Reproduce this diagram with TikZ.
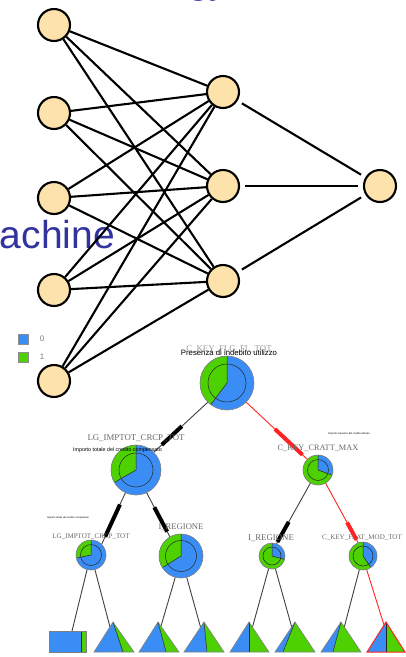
\documentclass[tikz,border=0pt]{standalone}
\usepackage{fontspec}
\setmainfont{Liberation Sans}
\newfontfamily\labelserif{Liberation Serif}
\usetikzlibrary{calc}

\definecolor{peach}{RGB}{253,227,171}
\definecolor{titleblue}{RGB}{51,51,160}
\definecolor{pieblue}{RGB}{58,141,245}
\definecolor{piegreen}{RGB}{78,209,0}
\definecolor{splitred}{RGB}{255,35,35}
\definecolor{labelgrey}{RGB}{105,105,105}

% pie glyph of a tree node: name, outer radius, inner radius, end angle of the green share
\newcommand\pieglyph[4]{%
  \fill[pieblue] (#1.center) circle[radius=#2pt];
  \fill[piegreen] (#1.center) -- ++(90:#2pt) arc[start angle=90,end angle=#4,radius=#2pt] -- cycle;
  \draw[pieseam] (#1.center) -- ++(90:#2pt) (#1.center) -- ++(#4:#2pt);
  \draw[pieseam] (#1.center) circle[radius=#3pt];
  \draw[pierim] (#1.center) circle[radius=#2pt];
}
% leaf triangle: apex x, left x, split x, right x, outline style
\newcommand\leaftri[5]{%
  \fill[pieblue] (#1,622) -- (#2,652) -- (#3,652) -- cycle;
  \fill[piegreen] (#1,622) -- (#3,652) -- (#4,652) -- cycle;
  \draw[pieseam] (#1,622) -- (#3,652);
  \draw[#5] (#1,622) -- (#2,652) -- (#4,652) -- cycle;
}

\begin{document}
\begin{tikzpicture}[x=1pt,y=-1pt,
  neuron/.style={circle,draw=black,line width=2.1pt,fill=peach,minimum size=32pt,inner sep=0pt},
  synapse/.style={line width=2.1pt,black},
  treenode/.style={circle,inner sep=0pt,outer sep=0pt},
  pieseam/.style={line width=0.5pt,black!85},
  pierim/.style={line width=0.6pt,black!50},
  leafrim/.style={line width=0.6pt,black!50},
  redrim/.style={line width=1pt,splitred},
  treeedge/.style={line width=0.9pt,black!75},
  heavyedge/.style={line width=4pt,black},
  rededge/.style={line width=0.9pt,splitred},
  redheavy/.style={line width=4pt,splitred},
  varlabel/.style={font=\labelserif\fontsize{8.8}{9}\selectfont,text=labelgrey,inner sep=0pt},
  desclabel/.style={text=black,inner sep=0pt},
  legendbox/.style={draw=black!45,line width=0.6pt,minimum size=10pt,inner sep=0pt},
  legendtext/.style={font=\fontsize{8}{8}\selectfont,text=black!50,inner sep=0pt}]

\useasboundingbox (0,0) rectangle (405,657);
\fill[white] (0,0) rectangle (405,657);

% slide title fragments
\node[anchor=base east,inner sep=0pt,text=titleblue,font=\fontsize{39}{39}\selectfont] (title) at (115,248) {achine};
\node[anchor=base west,inner sep=0pt,text=titleblue,font=\fontsize{38}{38}\selectfont] (titletop) at (188,-6.5) {gy};

% neural network
\node[neuron] (i1) at (54,25) {};
\node[neuron] (i2) at (54,113) {};
\node[neuron] (i3) at (54,198) {};
\node[neuron] (i4) at (54,290) {};
\node[neuron] (i5) at (54,381) {};
\node[neuron] (h1) at (223,92) {};
\node[neuron] (h2) at (223,186) {};
\node[neuron] (h3) at (223,281) {};
\node[neuron] (o) at (380,186) {};
\foreach \i in {1,...,5}
  \foreach \h in {1,2,3}
    \draw[synapse] (i\i) -- (h\h);
\foreach \h in {1,2,3}
  \draw[synapse,shorten <=5pt,shorten >=5pt] (h\h) -- (o);

% legend
\node[legendbox,fill=pieblue] (lg0) at (23,339) {};
\node[legendbox,fill=piegreen] (lg1) at (23,357) {};
\node[legendtext] (lt0) at (42,339) {0};
\node[legendtext] (lt1) at (42,357) {1};

% decision tree nodes
\node[treenode,minimum size=54pt] (root) at (227,383) {};
\node[treenode,minimum size=50pt] (n2) at (136,470) {};
\node[treenode,minimum size=30pt] (n3) at (318,470) {};
\node[treenode,minimum size=30pt] (n4) at (91,555) {};
\node[treenode,minimum size=44pt] (n5) at (181,556) {};
\node[treenode,minimum size=26pt] (n6) at (272,556) {};
\node[treenode,minimum size=28pt] (n7) at (363,556) {};

% leaf attach points
\coordinate (l1) at (72,631);
\coordinate (l2) at (110,627);
\coordinate (l3) at (161,626);
\coordinate (l4) at (200.5,627);
\coordinate (l5) at (252.5,627);
\coordinate (l6) at (291.7,627);
\coordinate (l7) at (344.3,627);
\coordinate (l8) at (384,625);

% branches
\coordinate (e1s) at (root.225); \coordinate (e1t) at (n2.45);
\draw[treeedge] (e1s) -- (e1t);
\draw[heavyedge] ($(e1s)!0.48!(e1t)$) -- ($(e1s)!0.85!(e1t)$);
\coordinate (e2s) at (root.-45); \coordinate (e2t) at (n3.135);
\draw[rededge] (e2s) -- (e2t);
\draw[redheavy] ($(e2s)!0.47!(e2t)$) -- ($(e2s)!0.92!(e2t)$);
\coordinate (e3s) at (n2.-115); \coordinate (e3t) at (n4.45);
\draw[treeedge] (e3s) -- (e3t);
\draw[heavyedge] ($(e3s)!0.23!(e3t)$) -- ($(e3s)!0.85!(e3t)$);
\coordinate (e4s) at (n2.-65); \coordinate (e4t) at (n5.120);
\draw[treeedge] (e4s) -- (e4t);
\draw[heavyedge] ($(e4s)!0.33!(e4t)$) -- ($(e4s)!0.88!(e4t)$);
\coordinate (e5s) at (n3.-120); \coordinate (e5t) at (n6.70);
\draw[treeedge] (e5s) -- (e5t);
\draw[heavyedge] ($(e5s)!0.64!(e5t)$) -- ($(e5s)!0.97!(e5t)$);
\coordinate (e6s) at (n3.-60); \coordinate (e6t) at (n7.110);
\draw[rededge] (e6s) -- (e6t);
\draw[redheavy] ($(e6s)!0.66!(e6t)$) -- ($(e6s)!0.95!(e6t)$);

\draw[treeedge] (n4.-105) -- (l1);
\draw[treeedge] (n4.-75) -- (l2);
\draw[treeedge] (n5.-105) -- (l3);
\draw[treeedge] (n5.-75) -- (l4);
\draw[treeedge] (n6.-105) -- (l5);
\draw[treeedge] (n6.-75) -- (l6);
\draw[treeedge] (n7.-105) -- (l7);
\draw[rededge] (n7.-75) -- (l8);

% pie glyphs
\pieglyph{root}{27}{19}{233}
\pieglyph{n2}{25}{17}{210}
\pieglyph{n3}{15}{10.5}{340}
\pieglyph{n4}{15}{10.5}{192}
\pieglyph{n5}{22}{15.5}{212}
\pieglyph{n6}{13}{9}{345}
\pieglyph{n7}{14}{10}{304}

% leaves
\fill[pieblue] (49,631) rectangle (81.5,652);
\fill[piegreen] (81.5,631) rectangle (86,652);
\draw[pieseam] (81.5,631) -- (81.5,652);
\draw[leafrim] (49,631) rectangle (86,652);
\leaftri{113}{94}{123}{134}{leafrim}
\leaftri{158}{139}{166}{179}{leafrim}
\leaftri{204}{184}{207}{224}{leafrim}
\leaftri{249}{230}{249}{269}{leafrim}
\leaftri{295}{275}{283}{315}{leafrim}
\leaftri{341}{321}{333}{361}{leafrim}
\leaftri{386}{367}{386}{405}{redrim}

% labels
\node[varlabel,text=black!40] (t1) at (229,349) {C\_KEY\_FLG\_FL\_TOT};
\node[desclabel,font=\fontsize{7.75}{8}\selectfont] (d1) at (229,353) {Presenza di indebito utilizzo};
\node[varlabel] (t2) at (136,438) {LG\_IMPTOT\_CRCP\_TOT};
\node[desclabel,anchor=west,font=\fontsize{5.3}{6}\selectfont] (d2) at (73,450) {Importo totale del credito compensato};
\node[varlabel,font=\labelserif\fontsize{8.3}{9}\selectfont] (t3) at (318,448) {C\_KEY\_CRATT\_MAX};
\node[desclabel,font=\fontsize{2.6}{3}\selectfont] (d3) at (349,434) {Importo massimo del credito attivato};
\node[varlabel,font=\labelserif\fontsize{7}{8}\selectfont] (t4) at (91,537) {LG\_IMPTOT\_CRCP\_TOT};
\node[desclabel,font=\fontsize{2.5}{3}\selectfont] (d4) at (68,518) {Importo totale del credito compensato};
\node[varlabel,font=\labelserif\fontsize{8.6}{9}\selectfont] (t5) at (181,527) {I\_REGIONE};
\node[varlabel] (t6) at (271,538) {I\_REGIONE};
\node[varlabel,font=\labelserif\fontsize{7}{8}\selectfont] (t7) at (362,538) {C\_KEY\_FLAT\_MOD\_TOT};

\end{tikzpicture}
\end{document}
